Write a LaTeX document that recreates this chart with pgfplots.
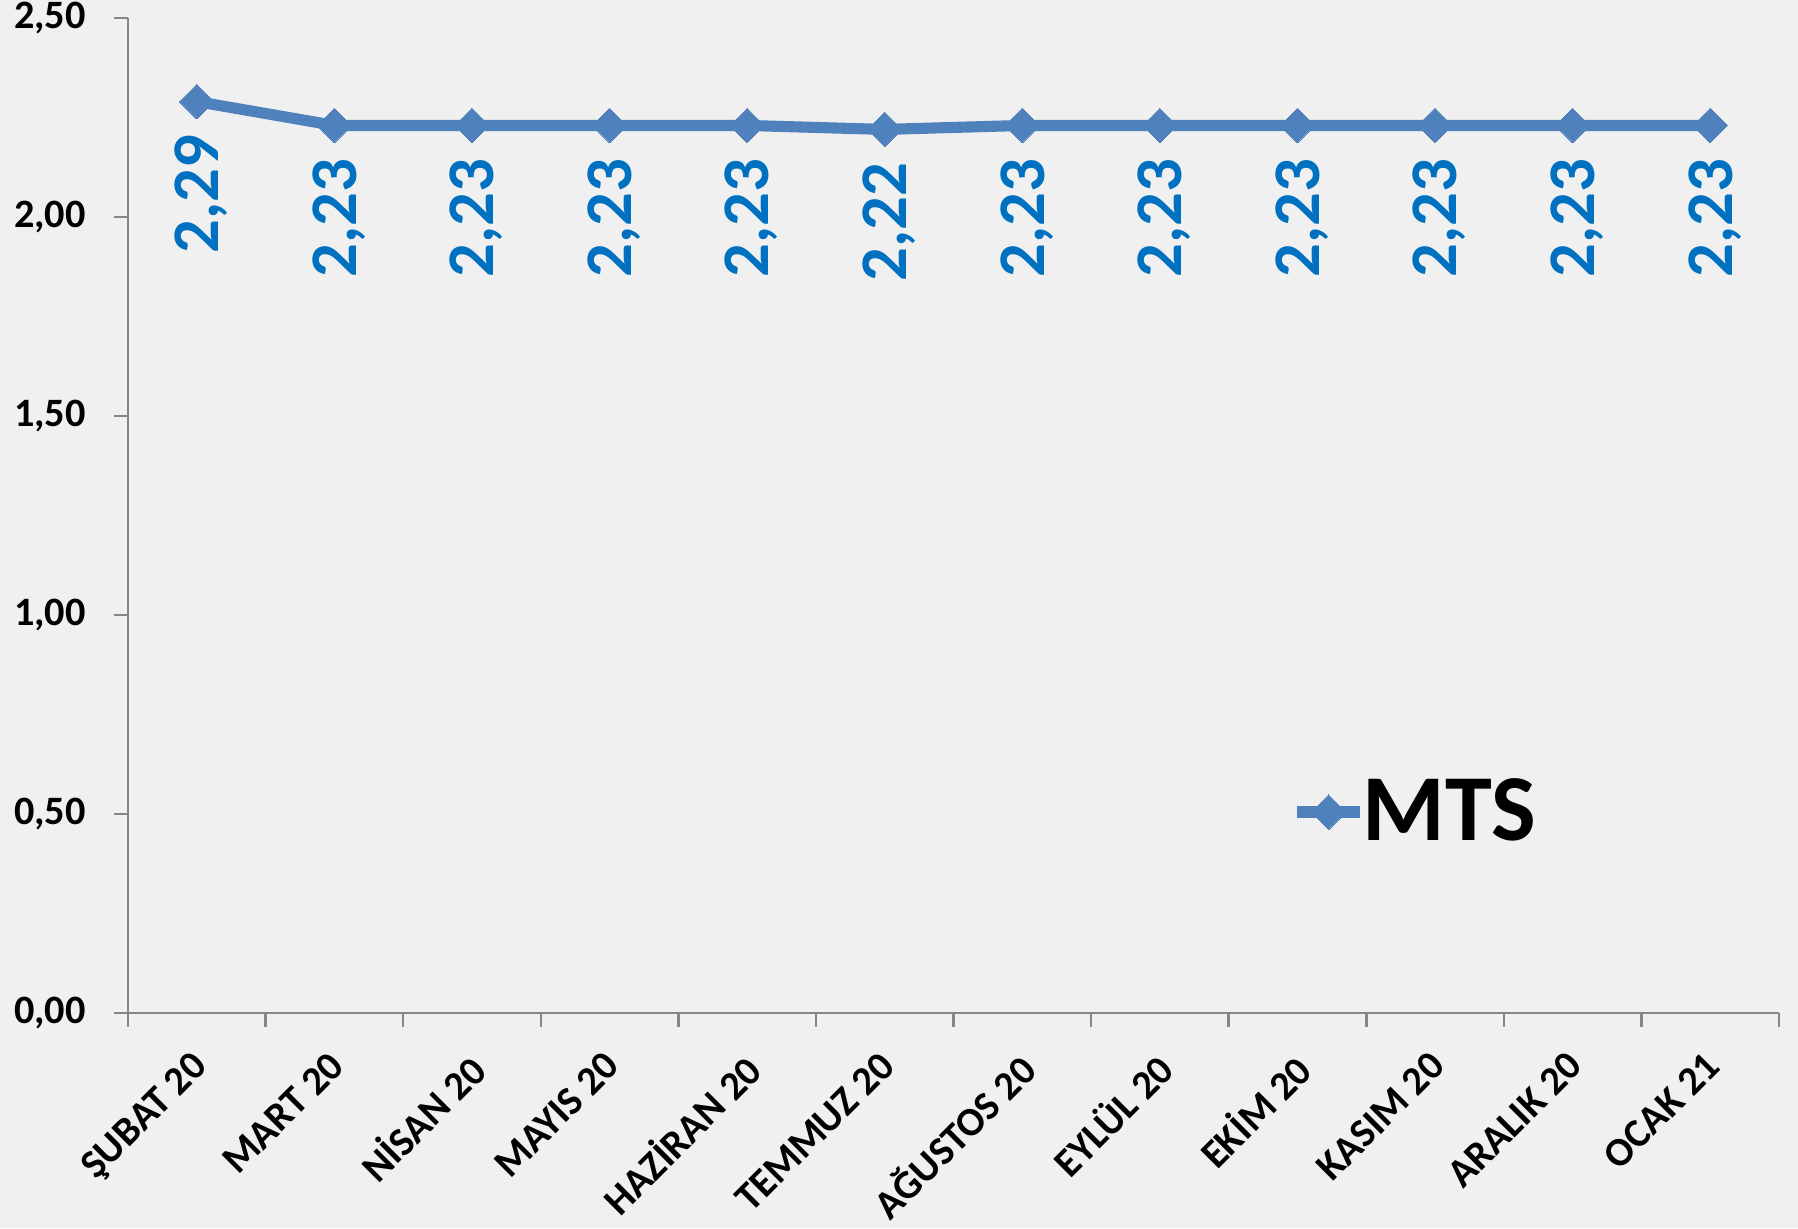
\documentclass[border=0pt]{standalone}
\usepackage{fontspec}
\setmainfont{Carlito}
\usepackage{pgfplots}
\pgfplotsset{compat=1.18}
\definecolor{linec}{RGB}{79,129,189}
\definecolor{labc}{RGB}{0,112,192}
\definecolor{axc}{RGB}{134,134,134}
\definecolor{bg}{RGB}{240,240,240}
\begin{document}
\begin{tikzpicture}
\useasboundingbox (0,0) rectangle (647.28pt,442.08pt);
\fill[bg] (0,0) rectangle (647.28pt,442.08pt);
\begin{axis}[
  at={(46.08pt,77.4pt)}, anchor=south west,
  scale only axis, width=594.36pt, height=358.2pt,
  xmin=-0.5, xmax=11.5, ymin=0, ymax=2.5,
  axis x line*=bottom, axis y line*=left,
  axis line style={axc, line width=0.9pt},
  tick align=outside,
  tick style={axc, line width=0.9pt},
  major tick length=5pt,
  xtick={-0.5,0.5,...,11.5},
  xticklabels={},
  extra x ticks={0,1,...,11},
  extra x tick labels={ŞUBAT 20,MART 20,NİSAN 20,MAYIS 20,HAZİRAN 20,TEMMUZ 20,AĞUSTOS 20,EYLÜL 20,EKİM 20,KASIM 20,ARALIK 20,OCAK 21},
  extra x tick style={major tick length=0pt},
  x tick label style={font=\fontsize{14.5}{14.5}\selectfont\bfseries, xshift=-2.5pt, rotate=45, anchor=north east, inner sep=0pt},
  xticklabel shift=13pt,
  ytick={0,0.5,...,2.5},
  y tick label style={font=\fontsize{14.5}{14.5}\selectfont\bfseries, inner sep=0pt,
    /pgf/number format/.cd, fixed, fixed zerofill, precision=2, use comma, assume math mode=true},
  yticklabel shift=10pt,
  legend style={at={(rel axis cs:0.6995,0.202)}, anchor=west, draw=none, fill=none,
    font=\fontsize{34}{34}\selectfont\bfseries, nodes={inner xsep=0pt},
    /tikz/every odd column/.append style={column sep=-1pt}},
  legend image code/.code={\draw[#1, mark repeat=2, mark phase=2] plot coordinates {(0pt,0pt) (11.3pt,0pt) (22.6pt,0pt)};},
  clip=false,
]
\addplot[linec, line width=4pt, mark=square*, mark size=4.4pt, mark options={rotate=45, fill=linec, draw=linec, line width=0pt},
  nodes near coords={\pgfmathprintnumber[fixed,fixed zerofill,precision=2,use comma,assume math mode=true]{\pgfplotspointmeta}},
  every node near coord/.append style={xshift=1.6pt, font=\fontsize{24}{24}\selectfont\bfseries, text=labc, rotate=90, anchor=east, inner xsep=12pt, inner ysep=0pt}]
coordinates {(0,2.29) (1,2.23) (2,2.23) (3,2.23) (4,2.23) (5,2.22) (6,2.23) (7,2.23) (8,2.23) (9,2.23) (10,2.23) (11,2.23)};
\addlegendentry{MTS}
\end{axis}
\end{tikzpicture}
\end{document}
